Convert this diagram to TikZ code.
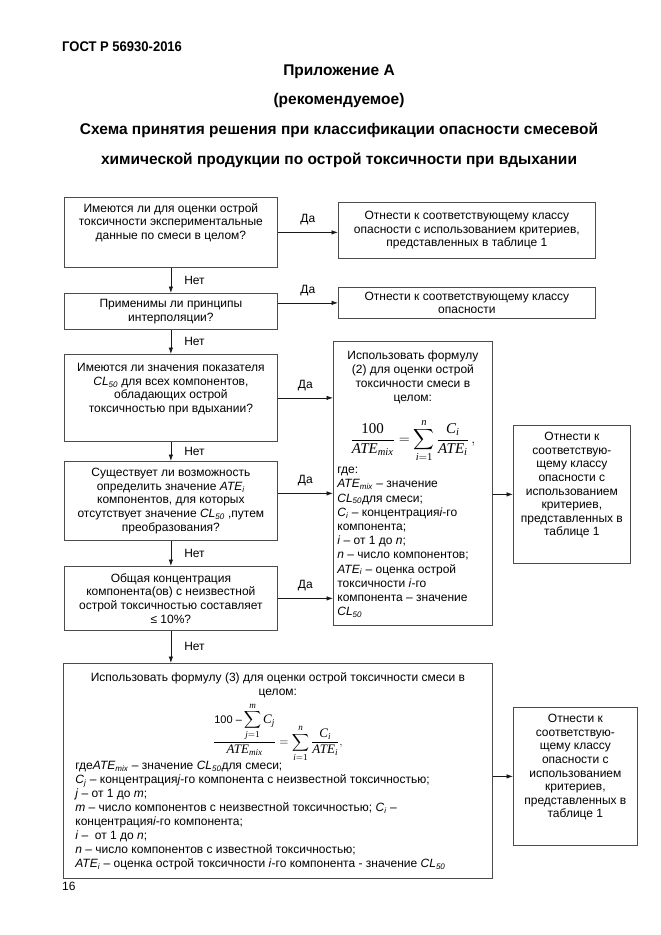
\documentclass[tikz,border=0pt]{standalone}
\usepackage{amsmath}
\usepackage{fontspec}
\setmainfont{Liberation Sans}
\newfontfamily\tnr{Liberation Serif}
\newfontfamily\nar[FakeStretch=0.93]{Liberation Sans}
\usetikzlibrary{arrows.meta}
\newcommand\tm[1]{\text{\tnr\itshape #1}}
\newcommand\tu[1]{\text{\tnr #1}}
\newcommand\CLf{\textit{CL}\textsubscript{\textit{50}}}
\newcommand\ATEsub[1]{\textit{ATE}\textsubscript{\textit{#1}}}
\newcommand\Csub[1]{\textit{C}\textsubscript{\textit{#1}}}
\newcommand\tb[4][c]{\parbox[c][#3pt][#1]{#2pt}{#4}}
\begin{document}
\begin{tikzpicture}[x=1pt,y=-1pt,
 box/.style={draw=black!70, line width=0.75pt, inner sep=0pt, anchor=north west},
 arr/.style={draw=black!90, line width=0.75pt, -{Latex[length=6.5pt,width=4.5pt]}},
 lbl/.style={font=\fontsize{12}{14}\selectfont, inner sep=0pt},
 bt/.style={font=\fontsize{12}{13.6}\selectfont},
 ft/.style={font=\fontsize{12}{14.2}\selectfont},
 gt/.style={font=\fontsize{12}{14}\selectfont},
 ttl/.style={font=\bfseries\fontsize{15.5}{18}\selectfont, inner sep=0pt}]
\useasboundingbox[fill=white] (0,0) rectangle (661,935);

% header
\node[anchor=west, inner sep=0pt, font=\nar\bfseries\fontsize{14}{16}\selectfont] (gost) at (62,47) {ГОСТ Р 56930-2016};
\node[ttl] (t1) at (339,72) {Приложение А};
\node[ttl] (t2) at (339,100) {(рекомендуемое)};
\node[ttl] (t3) at (339,130) {Схема принятия решения при классификации опасности смесевой};
\node[ttl] (t4) at (339,160) {химической продукции по острой токсичности при вдыхании};

% left column
\node[box, bt] (b1) at (64,197) {\tb[t]{213}{70}{\vspace*{6pt}\centering Имеются ли для оценки острой\\токсичности экспериментальные\\данные по смеси в целом?}};
\node[box, bt] (b2) at (64,293) {\tb{213}{36}{\centering Применимы ли принципы\\интерполяции?}};
\node[box, bt] (b3) at (64,354) {\tb[t]{213}{87}{\vspace*{9pt}\centering Имеются ли значения показателя\\\CLf{} для всех компонентов,\\обладающих острой\\токсичностью при вдыхании?}};
\node[box, bt] (b4) at (64,461) {\tb{213}{79}{\centering Существует ли возможность\\определить значение \ATEsub{i}\\компонентов, для которых\\отсутствует значение \CLf{} ,путем\\преобразования?}};
\node[box, bt] (b5) at (64,566) {\tb{213}{64}{\centering Общая концентрация\\компонента(ов) с неизвестной\\острой токсичностью составляет\\≤ 10\%?}};

% right boxes top
\node[box, bt] (r1) at (338,202) {\tb{257}{56}{\centering Отнести к соответствующему классу\\опасности с использованием критериев,\\представленных в таблице 1}};
\node[box, bt] (r2) at (338,287) {\tb{257}{31}{\centering Отнести к соответствующему классу\\опасности}};

% formula box (2)
\node[box, ft] (F) at (333,341) {\tb[t]{159}{284}{\vspace*{9pt}\centering Использовать формулу\\(2) для оценки острой\\токсичности смеси в\\целом:\par
\vspace{14pt}{\fontsize{15}{17}\selectfont$\displaystyle\frac{\tu{100}}{\tm{ATE}_{\tm{mix}}}=\sum_{\tm{i}=\tu{1}}^{\tm{n}}\frac{\tm{C}_{\tm{i}}}{\tm{ATE}_{\tm{i}}}\,,$\par}
\vspace{4pt}\raggedright\leftskip=4pt
где:\\
\ATEsub{mix} – значение\\
\CLf для смеси;\\
\Csub{i} – концентрация\textit{i}-го\\
компонента;\\
\textit{i} – от 1 до \textit{n};\\
\textit{n} – число компонентов;\\
\ATEsub{i} – оценка острой\\
токсичности \textit{i}-го\\
компонента – значение\\
\CLf}};

% middle right
\node[box, bt] (m) at (513,425) {\tb[t]{117}{138}{\vspace*{7pt}\centering Отнести к\\соответствую-\\щему классу\\опасности с\\использованием\\критериев,\\представленных в\\таблице 1}};

% formula box (3)
\node[box, gt] (b6) at (63,663) {\tb[t]{429}{215}{\vspace*{9pt}\centering Использовать формулу (3) для оценки острой токсичности смеси в\\целом:\par
\vspace{4pt}{\fontsize{13}{15}\selectfont$\displaystyle\frac{\displaystyle\text{\fontsize{11}{13}\selectfont 100 –}\sum_{\tm{j}=\tu{1}}^{\tm{m}}\tm{C}_{\tm{j}}}{\tm{ATE}_{\tm{mix}}}=\sum_{\tm{i}=\tu{1}}^{\tm{n}}\frac{\tm{C}_{\tm{i}}}{\tm{ATE}_{\tm{i}}},$\par}
\vspace{-1pt}\raggedright\leftskip=12pt
где\ATEsub{mix} – значение \CLf для смеси;\\
\Csub{j} – концентрация\textit{j}-го компонента с неизвестной токсичностью;\\
\textit{j} – от 1 до \textit{m};\\
\textit{m} – число компонентов с неизвестной токсичностью; \Csub{i} –\\
концентрация\textit{i}-го компонента;\\
\textit{i} – \ от 1 до \textit{n};\\
\textit{n} – число компонентов с известной токсичностью;\\
\ATEsub{i} – оценка острой токсичности \textit{i}-го компонента - значение \CLf}};

% bottom right
\node[box, bt] (br) at (513,707) {\tb[t]{124}{138}{\vspace*{7pt}\centering Отнести к\\соответствую-\\щему классу\\опасности с\\использованием\\критериев,\\представленных в\\таблице 1}};

% page number
\node[anchor=west, inner sep=0pt, font=\fontsize{12}{14}\selectfont] (pg) at (62,886) {16};

% connectors: No
\draw[arr] (b1) -- node[lbl, right=13pt] (n1) {Нет} (b2);
\draw[arr] (b2) -- node[lbl, right=13pt] (n2) {Нет} (b3);
\draw[arr] (b3) -- node[lbl, right=13pt] (n3) {Нет} (b4);
\draw[arr] (b4) -- node[lbl, right=13pt] (n4) {Нет} (b5);
\draw[arr] (b5.south) -- node[lbl, right=13pt] (n5) {Нет} (b5.south |- b6.north);

% connectors: Yes
\draw[arr] (b1.east) -- node[lbl, above=7pt] (d1) {Да} (b1.east -| r1.west);
\draw[arr] (b2.east |- r2.west) -- node[lbl, above=7pt] (d2) {Да} (r2.west);
\draw[arr] (b3.east) -- node[lbl, above=7pt] (d3) {Да} (b3.east -| F.west);
\coordinate (a4) at ([yshift=7.5pt]b4.east);
\draw[arr] (a4) -- node[lbl, above=7pt] (d4) {Да} (a4 -| F.west);
\draw[arr] (b5.east) -- node[lbl, above=7pt] (d5) {Да} (b5.east -| F.west);
\draw[arr] (F.east |- m.west) -- (m.west);
\draw[arr] (b6.east |- br.west) -- (br.west);
\end{tikzpicture}
\end{document}
